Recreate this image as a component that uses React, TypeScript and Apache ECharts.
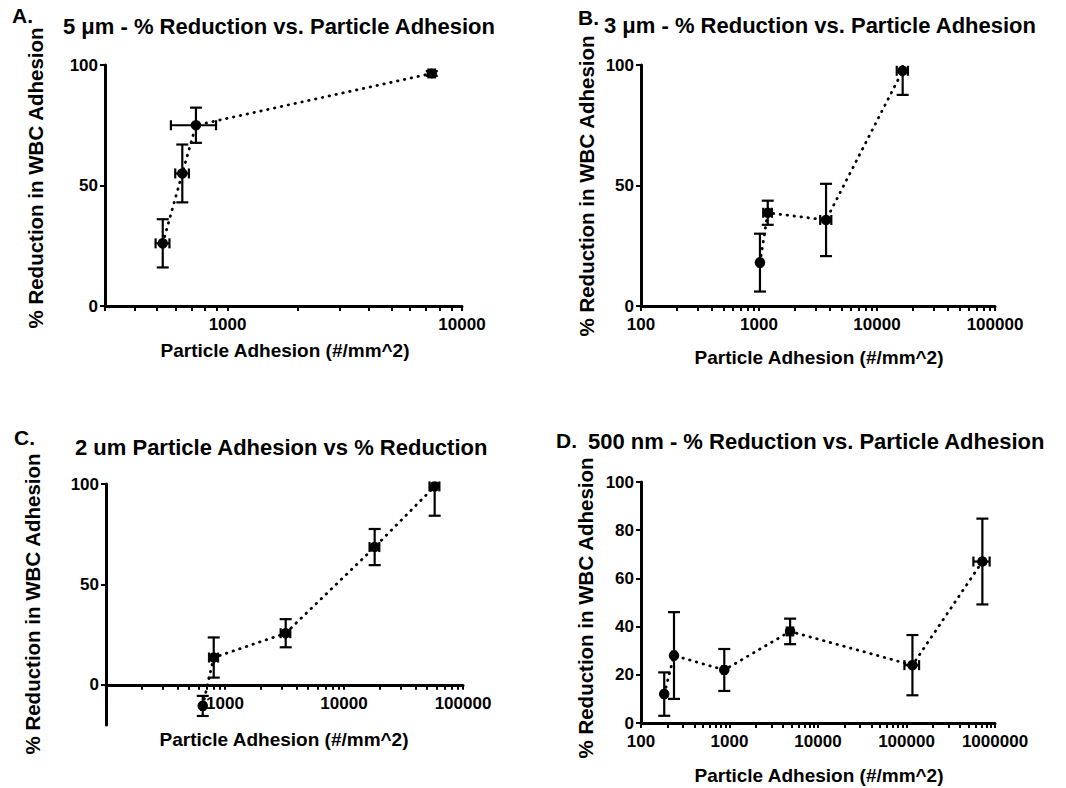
import React, { useEffect, useRef } from "react";
import * as echarts from "echarts";

// ---- Panel A: 5 um ----
const aX = [529, 641, 733, 7430];
const aY = [26, 55, 75, 96.5];
const aXErr = [36, 43, 160, 240];
const aYErr = [10, 12, 7.3, 1];

// ---- Panel B: 3 um ----
const bX = [1019, 1186, 3700, 16500];
const bY = [18, 38.7, 35.7, 97.6];
const bXErr = [30, 100, 400, 1800];
const bYErr = [12, 5, 15, 10];

// ---- Panel C: 2 um ----
const cX = [650, 804, 3236, 18100, 57800];
const cY = [-10.5, 13.6, 25.7, 68.6, 98.8];
const cXErr = [20, 70, 300, 1700, 5500];
const cYErr = [5, 10, 7, 9, 14.6];

// ---- Panel D: 500 nm ----
const dX = [183, 236, 873, 4840, 116700, 720000];
const dY = [12, 28, 22, 38, 24, 67];
const dXErr = [6, 10, 40, 400, 22000, 150000];
const dYErr = [9, 18, 8.7, 5.3, 12.5, 17.8];

// ---- axis labels ----
const aXLabels = [1000, 10000];
const bXLabels = [100, 1000, 10000, 100000];
const cXLabels = [1000, 10000, 100000];
const dXLabels = [100, 1000, 10000, 100000, 1000000];
const yLabels100 = [0, 50, 100];
const dYLabels = [0, 20, 40, 60, 80, 100];

const panelLetters = ["A.", "B.", "C.", "D."];
const titles = [
  "5 \u03bcm - % Reduction vs. Particle Adhesion",
  "3 \u03bcm - % Reduction vs. Particle Adhesion",
  "2 um Particle Adhesion vs % Reduction",
  "500 nm - % Reduction vs. Particle Adhesion",
];
const yName = "% Reduction in WBC Adhesion";
const xName = "Particle Adhesion (#/mm^2)";

const FONT = "'Liberation Sans', Arial, Helvetica, sans-serif";

function logTicks(minV: number, maxV: number): number[] {
  const out: number[] = [];
  let dec = Math.pow(10, Math.floor(Math.log10(minV)));
  while (dec <= maxV) {
    for (let k = 1; k <= 9; k++) {
      const v = k * dec;
      if (v >= minV && v <= maxV) out.push(v);
    }
    dec *= 10;
  }
  return out;
}

function xAxisCfg(gridIndex: number, min: number, max: number, labels: number[], offset = 0) {
  return {
    type: "log",
    logBase: 10,
    gridIndex,
    min,
    max,
    offset,
    axisLine: { show: true, onZero: false, lineStyle: { color: "#000", width: 3 } },
    axisTick: {
      show: true,
      length: 5,
      customValues: logTicks(min, max),
      lineStyle: { color: "#000", width: 2 },
    },
    axisLabel: {
      customValues: labels,
      formatter: (v: number) => String(Math.round(v)),
      fontSize: 17,
      fontWeight: "bold",
      color: "#000",
      fontFamily: FONT,
      margin: 10,
    },
    splitLine: { show: false },
    z: 1,
  };
}

function yAxisCfg(gridIndex: number, min: number, max: number, labels: number[]) {
  return {
    type: "value",
    gridIndex,
    min,
    max,
    axisLine: { show: true, onZero: false, lineStyle: { color: "#000", width: 3 } },
    axisTick: { show: true, length: 5, customValues: labels, lineStyle: { color: "#000", width: 2 } },
    axisLabel: {
      customValues: labels,
      fontSize: 17,
      fontWeight: "bold",
      color: "#000",
      fontFamily: FONT,
      margin: 7,
    },
    splitLine: { show: false },
    z: 1,
  };
}

function errRender(yMin: number, yMax: number) {
  return (params: any, api: any) => {
    const x = api.value(0);
    const y = api.value(1);
    const ex = api.value(2);
    const ey = api.value(3);
    const c = api.coord([x, y]);
    const yLoV = Math.max(y - ey, yMin);
    const yHiV = Math.min(y + ey, yMax);
    const lo = api.coord([x, yLoV]);
    const hi = api.coord([x, yHiV]);
    const l = api.coord([x - ex, y]);
    const r = api.coord([x + ex, y]);
    const cap = 6;
    const st = { stroke: "#000", lineWidth: 2.2 };
    const children: any[] = [
      { type: "line", shape: { x1: c[0], y1: lo[1], x2: c[0], y2: hi[1] }, style: st },
      { type: "line", shape: { x1: l[0], y1: c[1], x2: r[0], y2: c[1] }, style: st },
      { type: "line", shape: { x1: l[0], y1: c[1] - 5, x2: l[0], y2: c[1] + 5 }, style: st },
      { type: "line", shape: { x1: r[0], y1: c[1] - 5, x2: r[0], y2: c[1] + 5 }, style: st },
    ];
    if (y - ey >= yMin) {
      children.push({ type: "line", shape: { x1: c[0] - cap, y1: lo[1], x2: c[0] + cap, y2: lo[1] }, style: st });
    }
    if (y + ey <= yMax) {
      children.push({ type: "line", shape: { x1: c[0] - cap, y1: hi[1], x2: c[0] + cap, y2: hi[1] }, style: st });
    }
    return { type: "group", children };
  };
}

function panelSeries(idx: number, xs: number[], ys: number[], xe: number[], ye: number[], yMin: number, yMax: number) {
  const pts = xs.map((x, i) => [x, ys[i]]);
  const errData = xs.map((x, i) => [x, ys[i], xe[i], ye[i]]);
  return [
    {
      type: "line",
      xAxisIndex: idx,
      yAxisIndex: idx,
      data: pts,
      clip: false,
      symbol: "circle",
      symbolSize: 10.5,
      itemStyle: { color: "#000" },
      lineStyle: { color: "#000", width: 2.8, type: [0.5, 6.5], cap: "round" },
      z: 3,
    },
    {
      type: "custom",
      xAxisIndex: idx,
      yAxisIndex: idx,
      data: errData,
      encode: { x: 0, y: 1 },
      renderItem: errRender(yMin, yMax),
      z: 4,
    },
  ];
}

function txt(text: string, x: number, y: number, size: number, align = "left", rotate = 0) {
  return {
    type: "text",
    x,
    y,
    rotation: rotate,
    style: {
      text,
      fill: "#000",
      font: `bold ${size}px ${FONT}`,
      align,
      verticalAlign: "middle",
    },
  };
}

export default function App() {
  const ref = useRef<HTMLDivElement>(null);
  useEffect(() => {
    if (!ref.current) return;
    const chart = echarts.init(ref.current, undefined, { renderer: "svg" });
    const grids = [
      { left: 105, top: 65, width: 357, height: 241 },
      { left: 641, top: 65, width: 354, height: 241 },
      { left: 106, top: 484, width: 357, height: 241 },
      { left: 641, top: 482, width: 354, height: 241 },
    ];
    // panel C: y spans -20..100, the x axis sits at y = 0
    const cZeroOffset = -(241 * 20) / 120;
    const option: any = {
      animation: false,
      backgroundColor: "#fff",
      textStyle: { fontFamily: FONT },
      grid: grids.map((g) => ({ ...g, containLabel: false })),
      xAxis: [
        xAxisCfg(0, 300, 10000, aXLabels),
        xAxisCfg(1, 100, 100000, bXLabels),
        xAxisCfg(2, 100, 100000, cXLabels, cZeroOffset),
        xAxisCfg(3, 100, 1000000, dXLabels),
      ],
      yAxis: [
        yAxisCfg(0, 0, 100, yLabels100),
        yAxisCfg(1, 0, 100, yLabels100),
        yAxisCfg(2, -20, 100, yLabels100),
        yAxisCfg(3, 0, 100, dYLabels),
      ],
      series: [
        ...panelSeries(0, aX, aY, aXErr, aYErr, 0, 100),
        ...panelSeries(1, bX, bY, bXErr, bYErr, 0, 100),
        ...panelSeries(2, cX, cY, cXErr, cYErr, -20, 100),
        ...panelSeries(3, dX, dY, dXErr, dYErr, 0, 100),
      ],
      graphic: [
        txt(panelLetters[0], 12, 15, 21),
        txt(panelLetters[1], 578, 17, 21),
        txt(panelLetters[2], 14, 437, 21),
        txt(panelLetters[3], 556, 440, 21),
        txt(titles[0], 63, 26.5, 22),
        txt(titles[1], 604, 25.5, 22),
        txt(titles[2], 75, 447, 22),
        txt(titles[3], 588, 441, 22),
        txt(yName, 35, 178, 20.5, "center", Math.PI / 2),
        txt(yName, 586, 186, 20.5, "center", Math.PI / 2),
        txt(yName, 32, 604, 20.5, "center", Math.PI / 2),
        txt(yName, 585, 608, 20.5, "center", Math.PI / 2),
        txt(xName, 285, 350, 19, "center"),
        txt(xName, 819, 357, 19, "center"),
        txt(xName, 284, 739, 19, "center"),
        txt(xName, 819, 775, 19, "center"),
      ],
    };
    chart.setOption(option);
    return () => chart.dispose();
  }, []);
  return (
    <div
      ref={ref}
      style={{ position: "absolute", left: 0, top: 0, width: 1066, height: 788, background: "#fff" }}
    />
  );
}
